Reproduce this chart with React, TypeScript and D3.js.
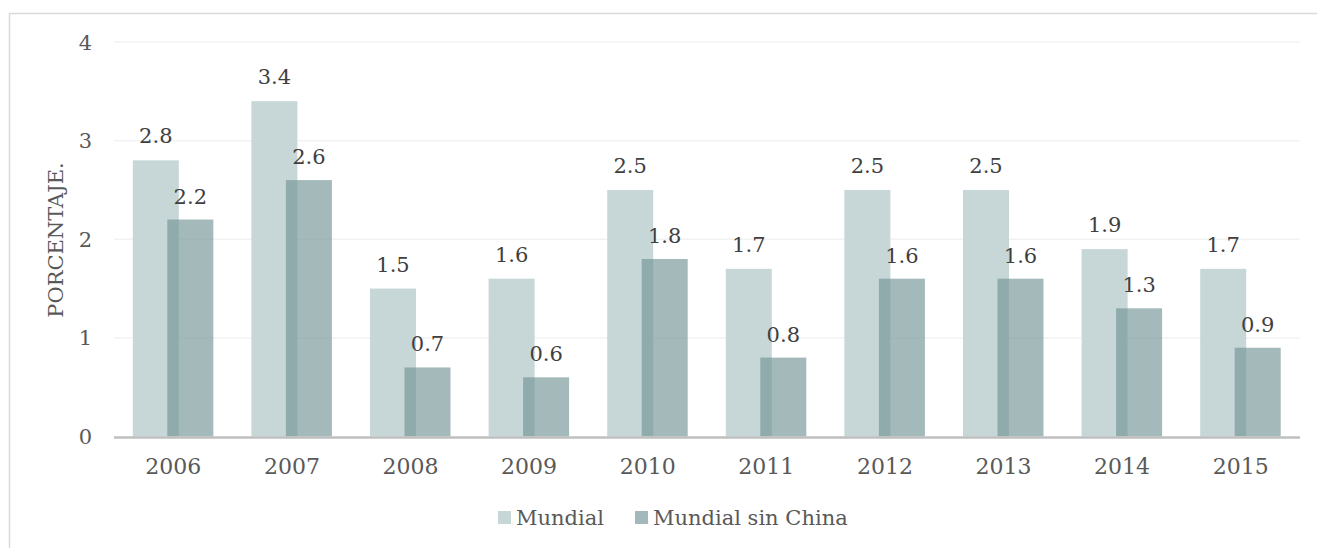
import React from "react";
import * as d3 from "d3";

const years = ["2006", "2007", "2008", "2009", "2010", "2011", "2012", "2013", "2014", "2015"];
const mundial = [2.8, 3.4, 1.5, 1.6, 2.5, 1.7, 2.5, 2.5, 1.9, 1.7];
const sinChina = [2.2, 2.6, 0.7, 0.6, 1.8, 0.8, 1.6, 1.6, 1.3, 0.9];
const yTicks = [0, 1, 2, 3, 4];
const seriesNames = ["Mundial", "Mundial sin China"];

const W = 1317;
const H = 548;
const FONT = "'DejaVu Serif', 'Liberation Serif', serif";
const TXT = "#595959";

export default function App() {
  const x = d3.scaleBand<string>().domain(years).range([114, 1300]).padding(0);
  const y = d3.scaleLinear().domain([0, 4]).range([436.5, 42]);
  const barW = 46;
  const off1 = -40.5;
  const off2 = -6;

  return (
    <svg
      width={W}
      height={H}
      style={{ position: "absolute", left: 0, top: 0, background: "#fff" }}
      fontFamily={FONT}
    >
      <rect x={9.5} y={13.5} width={W + 20} height={H + 20} fill="#fff" stroke="#d9d9d9" strokeWidth={1.5} />
      {yTicks.slice(1).map((t) => (
        <line key={t} x1={114} x2={1300} y1={y(t)} y2={y(t)} stroke="#f2f2f2" strokeWidth={1.5} />
      ))}
      {yTicks.map((t) => (
        <text key={t} x={92} y={y(t)} dy="0.36em" textAnchor="end" fontSize={21} fill={TXT}>
          {t}
        </text>
      ))}
      <text
        transform={`translate(63,240) rotate(-90)`}
        textAnchor="middle"
        fontSize={21}
        fill={TXT}
      >
        PORCENTAJE.
      </text>
      {years.map((yr, i) => {
        const c = (x(yr) as number) + x.bandwidth() / 2;
        return (
          <g key={yr}>
            <rect x={c + off1} y={y(mundial[i])} width={barW} height={y(0) - y(mundial[i])} fill="#c7d6d7" />
            <rect
              x={c + off2}
              y={y(sinChina[i])}
              width={barW}
              height={y(0) - y(sinChina[i])}
              fill="rgb(116,148,151)"
              fillOpacity={0.66}
            />
            <text x={c + off1 + barW / 2} y={y(mundial[i]) - 17} textAnchor="middle" fontSize={21} fill="#404040">
              {mundial[i].toFixed(1)}
            </text>
            <text x={c + off2 + barW / 2} y={y(sinChina[i]) - 16} textAnchor="middle" fontSize={21} fill="#404040">
              {sinChina[i].toFixed(1)}
            </text>
            <text x={c} y={474} textAnchor="middle" fontSize={22} fill={TXT}>
              {yr}
            </text>
          </g>
        );
      })}
      <line x1={114} x2={1300} y1={y(0) + 1} y2={y(0) + 1} stroke="#bfbfbf" strokeWidth={2.5} />
      <rect x={498} y={511} width={13} height={13} fill="#c7d6d7" />
      <text x={516} y={525} fontSize={21} fill={TXT}>{seriesNames[0]}</text>
      <rect x={635} y={511} width={13} height={13} fill="#a3b8ba" />
      <text x={653} y={525} fontSize={21} fill={TXT}>{seriesNames[1]}</text>
    </svg>
  );
}
